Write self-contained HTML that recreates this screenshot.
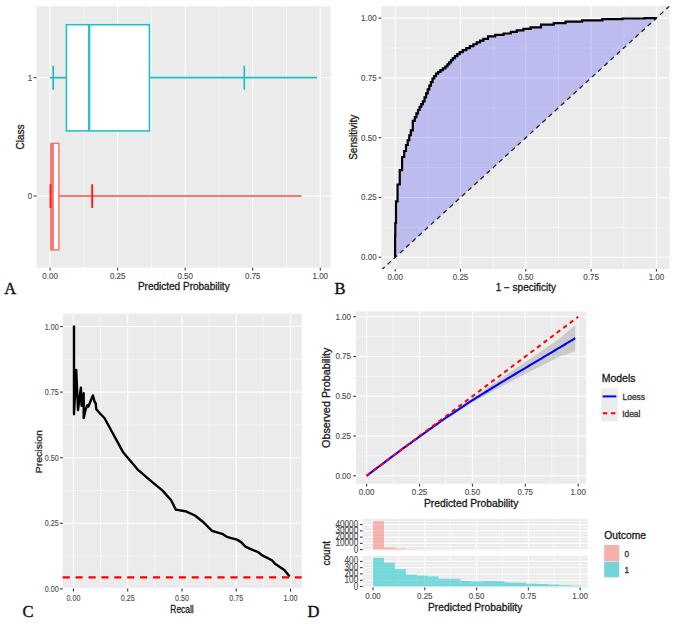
<!DOCTYPE html><html><head><meta charset="utf-8"><style>html,body{margin:0;padding:0;background:#fff;width:676px;height:624px;overflow:hidden}svg{display:block}text{font-family:"Liberation Sans",sans-serif}</style></head><body>
<svg width="676" height="624" viewBox="0 0 676 624">
<rect x="36.5" y="6.3" width="294.2" height="261.4" fill="#EBEBEB" />
<line x1="83.88" y1="6.3" x2="83.88" y2="267.7" stroke="#FFFFFF" stroke-width="0.53" />
<line x1="151.43" y1="6.3" x2="151.43" y2="267.7" stroke="#FFFFFF" stroke-width="0.53" />
<line x1="218.97" y1="6.3" x2="218.97" y2="267.7" stroke="#FFFFFF" stroke-width="0.53" />
<line x1="286.52" y1="6.3" x2="286.52" y2="267.7" stroke="#FFFFFF" stroke-width="0.53" />
<line x1="50.1" y1="6.3" x2="50.1" y2="267.7" stroke="#FFFFFF" stroke-width="1.07" />
<line x1="117.65" y1="6.3" x2="117.65" y2="267.7" stroke="#FFFFFF" stroke-width="1.07" />
<line x1="185.2" y1="6.3" x2="185.2" y2="267.7" stroke="#FFFFFF" stroke-width="1.07" />
<line x1="252.75" y1="6.3" x2="252.75" y2="267.7" stroke="#FFFFFF" stroke-width="1.07" />
<line x1="320.3" y1="6.3" x2="320.3" y2="267.7" stroke="#FFFFFF" stroke-width="1.07" />
<line x1="36.5" y1="77.7" x2="330.7" y2="77.7" stroke="#FFFFFF" stroke-width="1.07" />
<line x1="36.5" y1="196" x2="330.7" y2="196" stroke="#FFFFFF" stroke-width="1.07" />
<line x1="50.1" y1="77.7" x2="66.4" y2="77.7" stroke="#1CBFC6" stroke-width="1.8" />
<line x1="149.4" y1="77.7" x2="317" y2="77.7" stroke="#1CBFC6" stroke-width="1.8" />
<rect x="66.4" y="24.7" width="83" height="106.2" fill="#FFFFFF" stroke="#1CBFC6" stroke-width="1.5"/>
<line x1="89.2" y1="24.7" x2="89.2" y2="130.9" stroke="#1CBFC6" stroke-width="2.2" />
<line x1="53.2" y1="65.7" x2="53.2" y2="89.7" stroke="#1CBFC6" stroke-width="1.7" />
<line x1="244.3" y1="65.7" x2="244.3" y2="89.7" stroke="#1CBFC6" stroke-width="1.7" />
<line x1="59" y1="196" x2="301.4" y2="196" stroke="#F8766D" stroke-width="1.8" />
<rect x="50.95" y="143.4" width="7.95" height="106.5" fill="#FFFFFF" stroke="#F8766D" stroke-width="1.5"/>
<line x1="52.05" y1="143.4" x2="52.05" y2="249.9" stroke="#F8766D" stroke-width="3.7" />
<line x1="50.5" y1="184.3" x2="50.5" y2="207.9" stroke="#FF1A1A" stroke-width="1.9" />
<line x1="92.2" y1="184.3" x2="92.2" y2="207.9" stroke="#FF1A1A" stroke-width="1.9" />
<line x1="33.8" y1="77.7" x2="36.5" y2="77.7" stroke="#333333" stroke-width="1.07" />
<text x="0" y="0" font-size="8" fill="#4D4D4D" stroke="#4D4D4D" stroke-width="0.12" text-anchor="end" transform="translate(32.3 80.6) scale(1 1.1)">1</text>
<line x1="33.8" y1="196" x2="36.5" y2="196" stroke="#333333" stroke-width="1.07" />
<text x="0" y="0" font-size="8" fill="#4D4D4D" stroke="#4D4D4D" stroke-width="0.12" text-anchor="end" transform="translate(32.3 198.9) scale(1 1.1)">0</text>
<line x1="50.1" y1="267.7" x2="50.1" y2="270.4" stroke="#333333" stroke-width="1.07" />
<text x="0" y="0" font-size="8" fill="#4D4D4D" stroke="#4D4D4D" stroke-width="0.12" text-anchor="middle" transform="translate(50.1 278.6) scale(1 1.1)">0.00</text>
<line x1="117.65" y1="267.7" x2="117.65" y2="270.4" stroke="#333333" stroke-width="1.07" />
<text x="0" y="0" font-size="8" fill="#4D4D4D" stroke="#4D4D4D" stroke-width="0.12" text-anchor="middle" transform="translate(117.65 278.6) scale(1 1.1)">0.25</text>
<line x1="185.2" y1="267.7" x2="185.2" y2="270.4" stroke="#333333" stroke-width="1.07" />
<text x="0" y="0" font-size="8" fill="#4D4D4D" stroke="#4D4D4D" stroke-width="0.12" text-anchor="middle" transform="translate(185.2 278.6) scale(1 1.1)">0.50</text>
<line x1="252.75" y1="267.7" x2="252.75" y2="270.4" stroke="#333333" stroke-width="1.07" />
<text x="0" y="0" font-size="8" fill="#4D4D4D" stroke="#4D4D4D" stroke-width="0.12" text-anchor="middle" transform="translate(252.75 278.6) scale(1 1.1)">0.75</text>
<line x1="320.3" y1="267.7" x2="320.3" y2="270.4" stroke="#333333" stroke-width="1.07" />
<text x="0" y="0" font-size="8" fill="#4D4D4D" stroke="#4D4D4D" stroke-width="0.12" text-anchor="middle" transform="translate(320.3 278.6) scale(1 1.1)">1.00</text>
<text x="183.8" y="289.8" font-size="10" fill="#1A1A1A" stroke="#1A1A1A" stroke-width="0.3" text-anchor="middle" >Predicted Probability</text>
<text x="23.8" y="137" font-size="10" fill="#1A1A1A" stroke="#1A1A1A" stroke-width="0.3" text-anchor="middle" transform="rotate(-90 23.8 137)">Class</text>
<text x="4.3" y="293.8" font-size="16.5" fill="#111" stroke="#111" stroke-width="0.4" style="font-family:'Liberation Serif',serif">A</text>
<rect x="381.3" y="6.1" width="288.2" height="262.8" fill="#EBEBEB" />
<line x1="427.85" y1="6.1" x2="427.85" y2="268.9" stroke="#FFFFFF" stroke-width="0.53" />
<line x1="493.15" y1="6.1" x2="493.15" y2="268.9" stroke="#FFFFFF" stroke-width="0.53" />
<line x1="558.45" y1="6.1" x2="558.45" y2="268.9" stroke="#FFFFFF" stroke-width="0.53" />
<line x1="623.75" y1="6.1" x2="623.75" y2="268.9" stroke="#FFFFFF" stroke-width="0.53" />
<line x1="381.3" y1="227.4" x2="669.5" y2="227.4" stroke="#FFFFFF" stroke-width="0.53" />
<line x1="381.3" y1="167.6" x2="669.5" y2="167.6" stroke="#FFFFFF" stroke-width="0.53" />
<line x1="381.3" y1="107.8" x2="669.5" y2="107.8" stroke="#FFFFFF" stroke-width="0.53" />
<line x1="381.3" y1="48" x2="669.5" y2="48" stroke="#FFFFFF" stroke-width="0.53" />
<line x1="395.2" y1="6.1" x2="395.2" y2="268.9" stroke="#FFFFFF" stroke-width="1.07" />
<line x1="460.5" y1="6.1" x2="460.5" y2="268.9" stroke="#FFFFFF" stroke-width="1.07" />
<line x1="525.8" y1="6.1" x2="525.8" y2="268.9" stroke="#FFFFFF" stroke-width="1.07" />
<line x1="591.1" y1="6.1" x2="591.1" y2="268.9" stroke="#FFFFFF" stroke-width="1.07" />
<line x1="656.4" y1="6.1" x2="656.4" y2="268.9" stroke="#FFFFFF" stroke-width="1.07" />
<line x1="381.3" y1="257.3" x2="669.5" y2="257.3" stroke="#FFFFFF" stroke-width="1.07" />
<line x1="381.3" y1="197.5" x2="669.5" y2="197.5" stroke="#FFFFFF" stroke-width="1.07" />
<line x1="381.3" y1="137.7" x2="669.5" y2="137.7" stroke="#FFFFFF" stroke-width="1.07" />
<line x1="381.3" y1="77.9" x2="669.5" y2="77.9" stroke="#FFFFFF" stroke-width="1.07" />
<line x1="381.3" y1="18.1" x2="669.5" y2="18.1" stroke="#FFFFFF" stroke-width="1.07" />
<path d="M395.1,257.3 L395.1,257.3 L395.1,236 L395.1,236 L395.3,236 L395.3,223 L395.5,223 L396,223 L396,201.3 L396.5,201.3 L397.55,201.3 L397.55,184.5 L398.6,184.5 L399.75,184.5 L399.75,170.1 L400.9,170.1 L402.1,170.1 L402.1,157 L403.3,157 L404.2,157 L404.2,151 L405.1,151 L406,151 L406,145 L406.9,145 L407.68,145 L407.68,140.13 L408.47,140.13 L409.25,140.13 L409.25,135.27 L410.03,135.27 L410.82,135.27 L410.82,130.4 L411.6,130.4 L412.8,130.4 L412.8,120.8 L414,120.8 L414.8,120.8 L414.8,117.13 L415.6,117.13 L416.4,117.13 L416.4,113.47 L417.2,113.47 L418,113.47 L418,109.8 L418.8,109.8 L419.62,109.8 L419.62,106.97 L420.43,106.97 L421.25,106.97 L421.25,104.13 L422.07,104.13 L422.88,104.13 L422.88,101.3 L423.7,101.3 L424.5,101.3 L424.5,97.3 L425.3,97.3 L426.1,97.3 L426.1,93.3 L426.9,93.3 L427.7,93.3 L427.7,89.3 L428.5,89.3 L429.3,89.3 L429.3,85.7 L430.1,85.7 L430.9,85.7 L430.9,82.1 L431.7,82.1 L432.5,82.1 L432.5,78.5 L433.3,78.5 L434.2,78.5 L434.2,76.1 L435.1,76.1 L436,76.1 L436,73.7 L436.9,73.7 L438.1,73.7 L438.1,71.9 L439.3,71.9 L440.5,71.9 L440.5,70.1 L441.7,70.1 L442.9,70.1 L442.9,68.3 L444.1,68.3 L445.3,68.3 L445.3,66.5 L446.5,66.5 L447.4,66.5 L447.4,64.4 L448.3,64.4 L449.2,64.4 L449.2,62.3 L450.1,62.3 L451,62.3 L451,60.2 L451.9,60.2 L452.8,60.2 L452.8,58.1 L453.7,58.1 L454.9,58.1 L454.9,56.1 L456.1,56.1 L457.3,56.1 L457.3,54.1 L458.5,54.1 L459.7,54.1 L459.7,52.1 L460.9,52.1 L462.7,52.1 L462.7,50.1 L464.5,50.1 L466.3,50.1 L466.3,48.1 L468.1,48.1 L469.9,48.1 L469.9,46.1 L471.7,46.1 L473.36,46.1 L473.36,44.27 L475.02,44.27 L476.69,44.27 L476.69,42.45 L478.35,42.45 L480.01,42.45 L480.01,40.62 L481.68,40.62 L483.34,40.62 L483.34,38.8 L485,38.8 L488,38.8 L488,36.4 L491,36.4 L495.2,36.4 L495.2,34.95 L499.4,34.95 L503.6,34.95 L503.6,33.5 L507.8,33.5 L510.8,33.5 L510.8,31.9 L513.8,31.9 L516.8,31.9 L516.8,30.3 L519.8,30.3 L523.4,30.3 L523.4,28.8 L527,28.8 L530.6,28.8 L530.6,27.3 L534.2,27.3 L541.05,27.3 L541.05,24.6 L547.9,24.6 L553.8,24.6 L553.8,23.1 L559.7,23.1 L565.6,23.1 L565.6,21.6 L571.5,21.6 L582.15,21.6 L582.15,20.4 L592.8,20.4 L602.3,20.4 L602.3,19.2 L611.8,19.2 L622.45,19.2 L622.45,18.5 L633.1,18.5 L644.75,18.5 L644.75,18.1 L656.4,18.1 L395.1,257.3 Z" fill="#0000FF" fill-opacity="0.2" stroke="none"/>
<defs><clipPath id="cb"><rect x="381.3" y="6.1" width="288.2" height="262.8"/></clipPath></defs>
<line x1="381.3" y1="270.03" x2="669.5" y2="6.1" stroke="#222" stroke-width="1.3" stroke-dasharray="4.6 3.8" clip-path="url(#cb)"/>
<path d="M395.1,257.3 L395.1,257.3 L395.1,236 L395.1,236 L395.3,236 L395.3,223 L395.5,223 L396,223 L396,201.3 L396.5,201.3 L397.55,201.3 L397.55,184.5 L398.6,184.5 L399.75,184.5 L399.75,170.1 L400.9,170.1 L402.1,170.1 L402.1,157 L403.3,157 L404.2,157 L404.2,151 L405.1,151 L406,151 L406,145 L406.9,145 L407.68,145 L407.68,140.13 L408.47,140.13 L409.25,140.13 L409.25,135.27 L410.03,135.27 L410.82,135.27 L410.82,130.4 L411.6,130.4 L412.8,130.4 L412.8,120.8 L414,120.8 L414.8,120.8 L414.8,117.13 L415.6,117.13 L416.4,117.13 L416.4,113.47 L417.2,113.47 L418,113.47 L418,109.8 L418.8,109.8 L419.62,109.8 L419.62,106.97 L420.43,106.97 L421.25,106.97 L421.25,104.13 L422.07,104.13 L422.88,104.13 L422.88,101.3 L423.7,101.3 L424.5,101.3 L424.5,97.3 L425.3,97.3 L426.1,97.3 L426.1,93.3 L426.9,93.3 L427.7,93.3 L427.7,89.3 L428.5,89.3 L429.3,89.3 L429.3,85.7 L430.1,85.7 L430.9,85.7 L430.9,82.1 L431.7,82.1 L432.5,82.1 L432.5,78.5 L433.3,78.5 L434.2,78.5 L434.2,76.1 L435.1,76.1 L436,76.1 L436,73.7 L436.9,73.7 L438.1,73.7 L438.1,71.9 L439.3,71.9 L440.5,71.9 L440.5,70.1 L441.7,70.1 L442.9,70.1 L442.9,68.3 L444.1,68.3 L445.3,68.3 L445.3,66.5 L446.5,66.5 L447.4,66.5 L447.4,64.4 L448.3,64.4 L449.2,64.4 L449.2,62.3 L450.1,62.3 L451,62.3 L451,60.2 L451.9,60.2 L452.8,60.2 L452.8,58.1 L453.7,58.1 L454.9,58.1 L454.9,56.1 L456.1,56.1 L457.3,56.1 L457.3,54.1 L458.5,54.1 L459.7,54.1 L459.7,52.1 L460.9,52.1 L462.7,52.1 L462.7,50.1 L464.5,50.1 L466.3,50.1 L466.3,48.1 L468.1,48.1 L469.9,48.1 L469.9,46.1 L471.7,46.1 L473.36,46.1 L473.36,44.27 L475.02,44.27 L476.69,44.27 L476.69,42.45 L478.35,42.45 L480.01,42.45 L480.01,40.62 L481.68,40.62 L483.34,40.62 L483.34,38.8 L485,38.8 L488,38.8 L488,36.4 L491,36.4 L495.2,36.4 L495.2,34.95 L499.4,34.95 L503.6,34.95 L503.6,33.5 L507.8,33.5 L510.8,33.5 L510.8,31.9 L513.8,31.9 L516.8,31.9 L516.8,30.3 L519.8,30.3 L523.4,30.3 L523.4,28.8 L527,28.8 L530.6,28.8 L530.6,27.3 L534.2,27.3 L541.05,27.3 L541.05,24.6 L547.9,24.6 L553.8,24.6 L553.8,23.1 L559.7,23.1 L565.6,23.1 L565.6,21.6 L571.5,21.6 L582.15,21.6 L582.15,20.4 L592.8,20.4 L602.3,20.4 L602.3,19.2 L611.8,19.2 L622.45,19.2 L622.45,18.5 L633.1,18.5 L644.75,18.5 L644.75,18.1 L656.4,18.1" fill="none" stroke="#000" stroke-width="2.2" stroke-linejoin="miter"/>
<line x1="378.6" y1="257.3" x2="381.3" y2="257.3" stroke="#333333" stroke-width="1.07" />
<text x="0" y="0" font-size="8" fill="#4D4D4D" stroke="#4D4D4D" stroke-width="0.12" text-anchor="end" transform="translate(376.6 260.2) scale(1 1.1)">0.00</text>
<line x1="378.6" y1="197.5" x2="381.3" y2="197.5" stroke="#333333" stroke-width="1.07" />
<text x="0" y="0" font-size="8" fill="#4D4D4D" stroke="#4D4D4D" stroke-width="0.12" text-anchor="end" transform="translate(376.6 200.4) scale(1 1.1)">0.25</text>
<line x1="378.6" y1="137.7" x2="381.3" y2="137.7" stroke="#333333" stroke-width="1.07" />
<text x="0" y="0" font-size="8" fill="#4D4D4D" stroke="#4D4D4D" stroke-width="0.12" text-anchor="end" transform="translate(376.6 140.6) scale(1 1.1)">0.50</text>
<line x1="378.6" y1="77.9" x2="381.3" y2="77.9" stroke="#333333" stroke-width="1.07" />
<text x="0" y="0" font-size="8" fill="#4D4D4D" stroke="#4D4D4D" stroke-width="0.12" text-anchor="end" transform="translate(376.6 80.8) scale(1 1.1)">0.75</text>
<line x1="378.6" y1="18.1" x2="381.3" y2="18.1" stroke="#333333" stroke-width="1.07" />
<text x="0" y="0" font-size="8" fill="#4D4D4D" stroke="#4D4D4D" stroke-width="0.12" text-anchor="end" transform="translate(376.6 21) scale(1 1.1)">1.00</text>
<line x1="395.2" y1="268.9" x2="395.2" y2="271.6" stroke="#333333" stroke-width="1.07" />
<text x="0" y="0" font-size="8" fill="#4D4D4D" stroke="#4D4D4D" stroke-width="0.12" text-anchor="middle" transform="translate(395.2 279.8) scale(1 1.1)">0.00</text>
<line x1="460.5" y1="268.9" x2="460.5" y2="271.6" stroke="#333333" stroke-width="1.07" />
<text x="0" y="0" font-size="8" fill="#4D4D4D" stroke="#4D4D4D" stroke-width="0.12" text-anchor="middle" transform="translate(460.5 279.8) scale(1 1.1)">0.25</text>
<line x1="525.8" y1="268.9" x2="525.8" y2="271.6" stroke="#333333" stroke-width="1.07" />
<text x="0" y="0" font-size="8" fill="#4D4D4D" stroke="#4D4D4D" stroke-width="0.12" text-anchor="middle" transform="translate(525.8 279.8) scale(1 1.1)">0.50</text>
<line x1="591.1" y1="268.9" x2="591.1" y2="271.6" stroke="#333333" stroke-width="1.07" />
<text x="0" y="0" font-size="8" fill="#4D4D4D" stroke="#4D4D4D" stroke-width="0.12" text-anchor="middle" transform="translate(591.1 279.8) scale(1 1.1)">0.75</text>
<line x1="656.4" y1="268.9" x2="656.4" y2="271.6" stroke="#333333" stroke-width="1.07" />
<text x="0" y="0" font-size="8" fill="#4D4D4D" stroke="#4D4D4D" stroke-width="0.12" text-anchor="middle" transform="translate(656.4 279.8) scale(1 1.1)">1.00</text>
<text x="525.8" y="291.1" font-size="10" fill="#1A1A1A" stroke="#1A1A1A" stroke-width="0.3" text-anchor="middle" >1 − specificity</text>
<text x="356.6" y="137.3" font-size="10" fill="#1A1A1A" stroke="#1A1A1A" stroke-width="0.3" text-anchor="middle" transform="rotate(-90 356.6 137.3)">Sensitivity</text>
<text x="334.6" y="293.8" font-size="16.5" fill="#111" stroke="#111" stroke-width="0.4" style="font-family:'Liberation Serif',serif">B</text>
<rect x="62.7" y="313.6" width="239" height="274.2" fill="#EBEBEB" />
<line x1="100.54" y1="313.6" x2="100.54" y2="587.8" stroke="#FFFFFF" stroke-width="0.53" />
<line x1="154.82" y1="313.6" x2="154.82" y2="587.8" stroke="#FFFFFF" stroke-width="0.53" />
<line x1="209.1" y1="313.6" x2="209.1" y2="587.8" stroke="#FFFFFF" stroke-width="0.53" />
<line x1="263.38" y1="313.6" x2="263.38" y2="587.8" stroke="#FFFFFF" stroke-width="0.53" />
<line x1="62.7" y1="556.1" x2="301.7" y2="556.1" stroke="#FFFFFF" stroke-width="0.53" />
<line x1="62.7" y1="490.5" x2="301.7" y2="490.5" stroke="#FFFFFF" stroke-width="0.53" />
<line x1="62.7" y1="424.9" x2="301.7" y2="424.9" stroke="#FFFFFF" stroke-width="0.53" />
<line x1="62.7" y1="359.3" x2="301.7" y2="359.3" stroke="#FFFFFF" stroke-width="0.53" />
<line x1="73.4" y1="313.6" x2="73.4" y2="587.8" stroke="#FFFFFF" stroke-width="1.07" />
<line x1="127.68" y1="313.6" x2="127.68" y2="587.8" stroke="#FFFFFF" stroke-width="1.07" />
<line x1="181.96" y1="313.6" x2="181.96" y2="587.8" stroke="#FFFFFF" stroke-width="1.07" />
<line x1="236.24" y1="313.6" x2="236.24" y2="587.8" stroke="#FFFFFF" stroke-width="1.07" />
<line x1="290.52" y1="313.6" x2="290.52" y2="587.8" stroke="#FFFFFF" stroke-width="1.07" />
<line x1="62.7" y1="588.9" x2="301.7" y2="588.9" stroke="#FFFFFF" stroke-width="1.07" />
<line x1="62.7" y1="523.3" x2="301.7" y2="523.3" stroke="#FFFFFF" stroke-width="1.07" />
<line x1="62.7" y1="457.7" x2="301.7" y2="457.7" stroke="#FFFFFF" stroke-width="1.07" />
<line x1="62.7" y1="392.1" x2="301.7" y2="392.1" stroke="#FFFFFF" stroke-width="1.07" />
<line x1="62.7" y1="326.5" x2="301.7" y2="326.5" stroke="#FFFFFF" stroke-width="1.07" />
<path d="M74,325.4 L74,414.2 L76.2,369.9 L78,410 L80.9,387.6 L81.6,405.8 L83.7,393.3 L83.7,418 L85.6,409.6 L87.3,405.3 L88.4,406.5 L92.9,395.4 L94.6,401.8 L95.7,403.3 L96.3,409.3 L99.6,413 L104.6,418.3 L122.9,451.9 L138.3,470.2 L150.8,480.8 L162.3,490.4 L171,500 L175.8,509.6 L185.4,511.2 L195,515.5 L202.8,521.7 L212.1,530.8 L223,534.2 L226.8,536.8 L236.9,539.6 L240.8,541.9 L245.5,546.6 L250.1,548.9 L257.9,552 L261.8,555.1 L271.9,560.3 L275,563.7 L284.3,569.9 L289.7,576.4" fill="none" stroke="#000" stroke-width="2.4" stroke-linejoin="round"/>
<line x1="62.7" y1="577.4" x2="301.7" y2="577.4" stroke="#FF0000" stroke-width="2.3" stroke-dasharray="7.1 5.8"/>
<line x1="60.1" y1="588.9" x2="62.7" y2="588.9" stroke="#333333" stroke-width="1.1" />
<text x="0" y="0" font-size="8.6" fill="#4D4D4D" stroke="#4D4D4D" stroke-width="0.12" text-anchor="end" transform="translate(58.6 591.9) scale(0.83 1)">0.00</text>
<line x1="60.1" y1="523.3" x2="62.7" y2="523.3" stroke="#333333" stroke-width="1.1" />
<text x="0" y="0" font-size="8.6" fill="#4D4D4D" stroke="#4D4D4D" stroke-width="0.12" text-anchor="end" transform="translate(58.6 526.3) scale(0.83 1)">0.25</text>
<line x1="60.1" y1="457.7" x2="62.7" y2="457.7" stroke="#333333" stroke-width="1.1" />
<text x="0" y="0" font-size="8.6" fill="#4D4D4D" stroke="#4D4D4D" stroke-width="0.12" text-anchor="end" transform="translate(58.6 460.7) scale(0.83 1)">0.50</text>
<line x1="60.1" y1="392.1" x2="62.7" y2="392.1" stroke="#333333" stroke-width="1.1" />
<text x="0" y="0" font-size="8.6" fill="#4D4D4D" stroke="#4D4D4D" stroke-width="0.12" text-anchor="end" transform="translate(58.6 395.1) scale(0.83 1)">0.75</text>
<line x1="60.1" y1="326.5" x2="62.7" y2="326.5" stroke="#333333" stroke-width="1.1" />
<text x="0" y="0" font-size="8.6" fill="#4D4D4D" stroke="#4D4D4D" stroke-width="0.12" text-anchor="end" transform="translate(58.6 329.5) scale(0.83 1)">1.00</text>
<line x1="73.4" y1="588.6" x2="73.4" y2="591.6" stroke="#333333" stroke-width="1.1" />
<text x="0" y="0" font-size="8.6" fill="#4D4D4D" stroke="#4D4D4D" stroke-width="0.12" text-anchor="middle" transform="translate(73.4 600.9) scale(0.83 1)">0.00</text>
<line x1="127.68" y1="588.6" x2="127.68" y2="591.6" stroke="#333333" stroke-width="1.1" />
<text x="0" y="0" font-size="8.6" fill="#4D4D4D" stroke="#4D4D4D" stroke-width="0.12" text-anchor="middle" transform="translate(127.68 600.9) scale(0.83 1)">0.25</text>
<line x1="181.96" y1="588.6" x2="181.96" y2="591.6" stroke="#333333" stroke-width="1.1" />
<text x="0" y="0" font-size="8.6" fill="#4D4D4D" stroke="#4D4D4D" stroke-width="0.12" text-anchor="middle" transform="translate(181.96 600.9) scale(0.83 1)">0.50</text>
<line x1="236.24" y1="588.6" x2="236.24" y2="591.6" stroke="#333333" stroke-width="1.1" />
<text x="0" y="0" font-size="8.6" fill="#4D4D4D" stroke="#4D4D4D" stroke-width="0.12" text-anchor="middle" transform="translate(236.24 600.9) scale(0.83 1)">0.75</text>
<line x1="290.52" y1="588.6" x2="290.52" y2="591.6" stroke="#333333" stroke-width="1.1" />
<text x="0" y="0" font-size="8.6" fill="#4D4D4D" stroke="#4D4D4D" stroke-width="0.12" text-anchor="middle" transform="translate(290.52 600.9) scale(0.83 1)">1.00</text>
<text x="0" y="0" font-size="10.5" fill="#1A1A1A" stroke="#1A1A1A" stroke-width="0.3" text-anchor="middle" transform="translate(182 612.6) scale(0.8 1)">Recall</text>
<text x="0" y="0" font-size="10.5" fill="#1A1A1A" stroke="#1A1A1A" stroke-width="0.3" text-anchor="middle" transform="translate(42.4 451.7) rotate(-90) scale(1 0.8)">Precision</text>
<text x="22.6" y="617" font-size="16.5" fill="#111" stroke="#111" stroke-width="0.4" style="font-family:'Liberation Serif',serif">C</text>
<rect x="356" y="311.4" width="230.2" height="172.4" fill="#EBEBEB" />
<line x1="393.05" y1="311.4" x2="393.05" y2="483.8" stroke="#FFFFFF" stroke-width="0.53" />
<line x1="445.95" y1="311.4" x2="445.95" y2="483.8" stroke="#FFFFFF" stroke-width="0.53" />
<line x1="498.85" y1="311.4" x2="498.85" y2="483.8" stroke="#FFFFFF" stroke-width="0.53" />
<line x1="551.75" y1="311.4" x2="551.75" y2="483.8" stroke="#FFFFFF" stroke-width="0.53" />
<line x1="356" y1="455.93" x2="586.2" y2="455.93" stroke="#FFFFFF" stroke-width="0.53" />
<line x1="356" y1="416.18" x2="586.2" y2="416.18" stroke="#FFFFFF" stroke-width="0.53" />
<line x1="356" y1="376.43" x2="586.2" y2="376.43" stroke="#FFFFFF" stroke-width="0.53" />
<line x1="356" y1="336.68" x2="586.2" y2="336.68" stroke="#FFFFFF" stroke-width="0.53" />
<line x1="366.6" y1="311.4" x2="366.6" y2="483.8" stroke="#FFFFFF" stroke-width="1.07" />
<line x1="419.5" y1="311.4" x2="419.5" y2="483.8" stroke="#FFFFFF" stroke-width="1.07" />
<line x1="472.4" y1="311.4" x2="472.4" y2="483.8" stroke="#FFFFFF" stroke-width="1.07" />
<line x1="525.3" y1="311.4" x2="525.3" y2="483.8" stroke="#FFFFFF" stroke-width="1.07" />
<line x1="578.2" y1="311.4" x2="578.2" y2="483.8" stroke="#FFFFFF" stroke-width="1.07" />
<line x1="356" y1="475.8" x2="586.2" y2="475.8" stroke="#FFFFFF" stroke-width="1.07" />
<line x1="356" y1="436.05" x2="586.2" y2="436.05" stroke="#FFFFFF" stroke-width="1.07" />
<line x1="356" y1="396.3" x2="586.2" y2="396.3" stroke="#FFFFFF" stroke-width="1.07" />
<line x1="356" y1="356.55" x2="586.2" y2="356.55" stroke="#FFFFFF" stroke-width="1.07" />
<line x1="356" y1="316.8" x2="586.2" y2="316.8" stroke="#FFFFFF" stroke-width="1.07" />
<path d="M431.79,427.12 L434.4,425.21 L437,423.31 L439.61,421.4 L442.22,419.42 L444.83,417.48 L447.43,415.63 L450.04,413.79 L452.65,411.95 L455.25,410.1 L457.86,408.26 L460.47,406.41 L463.08,404.57 L465.69,402.73 L468.29,400.88 L470.9,399.04 L473.51,397.26 L476.12,395.53 L478.72,393.79 L481.33,392.02 L483.94,390.22 L486.55,388.41 L489.15,386.6 L491.76,384.79 L494.37,382.99 L496.98,381.18 L499.58,379.37 L502.19,377.6 L504.8,375.84 L507.41,374.08 L510.01,372.32 L512.62,370.56 L515.23,368.8 L517.84,367.03 L520.44,365.28 L523.05,363.54 L525.66,361.81 L528.27,360.07 L530.87,358.32 L533.48,356.54 L536.09,354.75 L538.7,352.97 L541.3,351.17 L543.91,349.37 L546.52,347.57 L549.12,345.77 L551.73,343.96 L554.34,342.16 L556.95,340.36 L559.56,338.48 L562.16,336.29 L564.77,334.1 L567.38,331.92 L569.99,329.73 L572.59,327.54 L575.2,325.35 L575.2,351.15 L572.59,352.09 L569.99,353.02 L567.38,353.95 L564.77,354.88 L562.16,355.81 L559.56,356.74 L556.95,357.98 L554.34,359.29 L551.73,360.61 L549.12,361.93 L546.52,363.24 L543.91,364.56 L541.3,365.88 L538.7,367.19 L536.09,368.48 L533.48,369.78 L530.87,371.08 L528.27,372.42 L525.66,373.77 L523.05,375.11 L520.44,376.46 L517.84,377.83 L515.23,379.21 L512.62,380.58 L510.01,381.96 L507.41,383.34 L504.8,384.71 L502.19,386.09 L499.58,387.47 L496.98,388.89 L494.37,390.31 L491.76,391.73 L489.15,393.16 L486.55,394.58 L483.94,396 L481.33,397.42 L478.72,398.88 L476.12,400.38 L473.51,401.87 L470.9,403.42 L468.29,405.03 L465.69,406.64 L463.08,408.25 L460.47,409.86 L457.86,411.47 L455.25,413.07 L452.65,414.68 L450.04,416.29 L447.43,417.9 L444.83,419.51 L442.22,421.22 L439.61,423 L437,424.84 L434.4,426.69 L431.79,428.54 Z" fill="#999999" fill-opacity="0.4"/>
<path d="M366.6,475.8 L369.21,473.84 L371.81,471.88 L374.42,469.92 L377.03,467.96 L379.64,466 L382.25,464.04 L384.85,462.08 L387.46,460.13 L390.07,458.17 L392.68,456.21 L395.28,454.25 L397.89,452.29 L400.5,450.34 L403.11,448.47 L405.71,446.59 L408.32,444.72 L410.93,442.84 L413.54,440.96 L416.14,439.09 L418.75,437.21 L421.36,435.33 L423.97,433.46 L426.57,431.58 L429.18,429.7 L431.79,427.83 L434.4,425.95 L437,424.08 L439.61,422.2 L442.22,420.32 L444.83,418.49 L447.43,416.77 L450.04,415.04 L452.65,413.31 L455.25,411.59 L457.86,409.86 L460.47,408.13 L463.08,406.41 L465.69,404.68 L468.29,402.96 L470.9,401.23 L473.51,399.57 L476.12,397.95 L478.72,396.34 L481.33,394.72 L483.94,393.11 L486.55,391.49 L489.15,389.88 L491.76,388.26 L494.37,386.65 L496.98,385.03 L499.58,383.42 L502.19,381.84 L504.8,380.28 L507.41,378.71 L510.01,377.14 L512.62,375.57 L515.23,374 L517.84,372.43 L520.44,370.87 L523.05,369.33 L525.66,367.79 L528.27,366.24 L530.87,364.7 L533.48,363.16 L536.09,361.62 L538.7,360.08 L541.3,358.53 L543.91,356.97 L546.52,355.41 L549.12,353.85 L551.73,352.29 L554.34,350.73 L556.95,349.17 L559.56,347.61 L562.16,346.05 L564.77,344.49 L567.38,342.93 L569.99,341.37 L572.59,339.81 L575.2,338.25" fill="none" stroke="#0000FF" stroke-width="2.1" stroke-linejoin="round"/>
<line x1="366.6" y1="475.8" x2="578.2" y2="316.8" stroke="#FF0000" stroke-width="2.0" stroke-dasharray="4.4 3.8"/>
<line x1="353.3" y1="475.8" x2="356" y2="475.8" stroke="#333333" stroke-width="1.07" />
<text x="0" y="0" font-size="8" fill="#4D4D4D" stroke="#4D4D4D" stroke-width="0.12" text-anchor="end" transform="translate(351 478.7) scale(1 1.1)">0.00</text>
<line x1="353.3" y1="436.05" x2="356" y2="436.05" stroke="#333333" stroke-width="1.07" />
<text x="0" y="0" font-size="8" fill="#4D4D4D" stroke="#4D4D4D" stroke-width="0.12" text-anchor="end" transform="translate(351 438.95) scale(1 1.1)">0.25</text>
<line x1="353.3" y1="396.3" x2="356" y2="396.3" stroke="#333333" stroke-width="1.07" />
<text x="0" y="0" font-size="8" fill="#4D4D4D" stroke="#4D4D4D" stroke-width="0.12" text-anchor="end" transform="translate(351 399.2) scale(1 1.1)">0.50</text>
<line x1="353.3" y1="356.55" x2="356" y2="356.55" stroke="#333333" stroke-width="1.07" />
<text x="0" y="0" font-size="8" fill="#4D4D4D" stroke="#4D4D4D" stroke-width="0.12" text-anchor="end" transform="translate(351 359.45) scale(1 1.1)">0.75</text>
<line x1="353.3" y1="316.8" x2="356" y2="316.8" stroke="#333333" stroke-width="1.07" />
<text x="0" y="0" font-size="8" fill="#4D4D4D" stroke="#4D4D4D" stroke-width="0.12" text-anchor="end" transform="translate(351 319.7) scale(1 1.1)">1.00</text>
<line x1="366.6" y1="483.8" x2="366.6" y2="486.5" stroke="#333333" stroke-width="1.07" />
<text x="0" y="0" font-size="8" fill="#4D4D4D" stroke="#4D4D4D" stroke-width="0.12" text-anchor="middle" transform="translate(366.6 495.3) scale(1 1.1)">0.00</text>
<line x1="419.5" y1="483.8" x2="419.5" y2="486.5" stroke="#333333" stroke-width="1.07" />
<text x="0" y="0" font-size="8" fill="#4D4D4D" stroke="#4D4D4D" stroke-width="0.12" text-anchor="middle" transform="translate(419.5 495.3) scale(1 1.1)">0.25</text>
<line x1="472.4" y1="483.8" x2="472.4" y2="486.5" stroke="#333333" stroke-width="1.07" />
<text x="0" y="0" font-size="8" fill="#4D4D4D" stroke="#4D4D4D" stroke-width="0.12" text-anchor="middle" transform="translate(472.4 495.3) scale(1 1.1)">0.50</text>
<line x1="525.3" y1="483.8" x2="525.3" y2="486.5" stroke="#333333" stroke-width="1.07" />
<text x="0" y="0" font-size="8" fill="#4D4D4D" stroke="#4D4D4D" stroke-width="0.12" text-anchor="middle" transform="translate(525.3 495.3) scale(1 1.1)">0.75</text>
<line x1="578.2" y1="483.8" x2="578.2" y2="486.5" stroke="#333333" stroke-width="1.07" />
<text x="0" y="0" font-size="8" fill="#4D4D4D" stroke="#4D4D4D" stroke-width="0.12" text-anchor="middle" transform="translate(578.2 495.3) scale(1 1.1)">1.00</text>
<text x="471.1" y="506.6" font-size="10.3" fill="#1A1A1A" stroke="#1A1A1A" stroke-width="0.3" text-anchor="middle" >Predicted Probability</text>
<text x="330.3" y="397.8" font-size="10.8" fill="#1A1A1A" stroke="#1A1A1A" stroke-width="0.3" text-anchor="middle" transform="rotate(-90 330.3 397.8)">Observed Probability</text>
<text x="601.7" y="382" font-size="10.5" fill="#1A1A1A" stroke="#1A1A1A" stroke-width="0.3" text-anchor="start" >Models</text>
<rect x="601.2" y="388.3" width="16.6" height="33.1" fill="#EBEBEB" />
<line x1="602.6" y1="396.4" x2="616.4" y2="396.4" stroke="#0000FF" stroke-width="2" />
<line x1="602.8" y1="413.2" x2="616.4" y2="413.2" stroke="#FF0000" stroke-width="2" stroke-dasharray="4.4 3.8"/>
<text x="622.6" y="399.9" font-size="8.4" fill="#333333" stroke="#333333" stroke-width="0.3" text-anchor="start" >Loess</text>
<text x="622.2" y="417.2" font-size="8.4" fill="#333333" stroke="#333333" stroke-width="0.3" text-anchor="start" >Ideal</text>
<rect x="362.6" y="518.9" width="225" height="31.7" fill="#EBEBEB" />
<line x1="398.89" y1="518.9" x2="398.89" y2="550.6" stroke="#FFFFFF" stroke-width="0.53" />
<line x1="450.67" y1="518.9" x2="450.67" y2="550.6" stroke="#FFFFFF" stroke-width="0.53" />
<line x1="502.45" y1="518.9" x2="502.45" y2="550.6" stroke="#FFFFFF" stroke-width="0.53" />
<line x1="554.23" y1="518.9" x2="554.23" y2="550.6" stroke="#FFFFFF" stroke-width="0.53" />
<line x1="362.6" y1="546.48" x2="587.6" y2="546.48" stroke="#FFFFFF" stroke-width="0.53" />
<line x1="362.6" y1="540.23" x2="587.6" y2="540.23" stroke="#FFFFFF" stroke-width="0.53" />
<line x1="362.6" y1="533.98" x2="587.6" y2="533.98" stroke="#FFFFFF" stroke-width="0.53" />
<line x1="362.6" y1="527.73" x2="587.6" y2="527.73" stroke="#FFFFFF" stroke-width="0.53" />
<line x1="362.6" y1="521.5" x2="587.6" y2="521.5" stroke="#FFFFFF" stroke-width="0.53" />
<line x1="373" y1="518.9" x2="373" y2="550.6" stroke="#FFFFFF" stroke-width="1.07" />
<line x1="424.78" y1="518.9" x2="424.78" y2="550.6" stroke="#FFFFFF" stroke-width="1.07" />
<line x1="476.56" y1="518.9" x2="476.56" y2="550.6" stroke="#FFFFFF" stroke-width="1.07" />
<line x1="528.34" y1="518.9" x2="528.34" y2="550.6" stroke="#FFFFFF" stroke-width="1.07" />
<line x1="580.12" y1="518.9" x2="580.12" y2="550.6" stroke="#FFFFFF" stroke-width="1.07" />
<line x1="362.6" y1="549.6" x2="587.6" y2="549.6" stroke="#FFFFFF" stroke-width="1.07" />
<line x1="362.6" y1="543.35" x2="587.6" y2="543.35" stroke="#FFFFFF" stroke-width="1.07" />
<line x1="362.6" y1="537.1" x2="587.6" y2="537.1" stroke="#FFFFFF" stroke-width="1.07" />
<line x1="362.6" y1="530.85" x2="587.6" y2="530.85" stroke="#FFFFFF" stroke-width="1.07" />
<line x1="362.6" y1="524.6" x2="587.6" y2="524.6" stroke="#FFFFFF" stroke-width="1.07" />
<rect x="362.6" y="555.9" width="225" height="31.7" fill="#EBEBEB" />
<line x1="398.89" y1="555.9" x2="398.89" y2="587.6" stroke="#FFFFFF" stroke-width="0.53" />
<line x1="450.67" y1="555.9" x2="450.67" y2="587.6" stroke="#FFFFFF" stroke-width="0.53" />
<line x1="502.45" y1="555.9" x2="502.45" y2="587.6" stroke="#FFFFFF" stroke-width="0.53" />
<line x1="554.23" y1="555.9" x2="554.23" y2="587.6" stroke="#FFFFFF" stroke-width="0.53" />
<line x1="362.6" y1="583.36" x2="587.6" y2="583.36" stroke="#FFFFFF" stroke-width="0.53" />
<line x1="362.6" y1="577.08" x2="587.6" y2="577.08" stroke="#FFFFFF" stroke-width="0.53" />
<line x1="362.6" y1="570.8" x2="587.6" y2="570.8" stroke="#FFFFFF" stroke-width="0.53" />
<line x1="362.6" y1="564.52" x2="587.6" y2="564.52" stroke="#FFFFFF" stroke-width="0.53" />
<line x1="362.6" y1="558.28" x2="587.6" y2="558.28" stroke="#FFFFFF" stroke-width="0.53" />
<line x1="373" y1="555.9" x2="373" y2="587.6" stroke="#FFFFFF" stroke-width="1.07" />
<line x1="424.78" y1="555.9" x2="424.78" y2="587.6" stroke="#FFFFFF" stroke-width="1.07" />
<line x1="476.56" y1="555.9" x2="476.56" y2="587.6" stroke="#FFFFFF" stroke-width="1.07" />
<line x1="528.34" y1="555.9" x2="528.34" y2="587.6" stroke="#FFFFFF" stroke-width="1.07" />
<line x1="580.12" y1="555.9" x2="580.12" y2="587.6" stroke="#FFFFFF" stroke-width="1.07" />
<line x1="362.6" y1="586.5" x2="587.6" y2="586.5" stroke="#FFFFFF" stroke-width="1.07" />
<line x1="362.6" y1="580.22" x2="587.6" y2="580.22" stroke="#FFFFFF" stroke-width="1.07" />
<line x1="362.6" y1="573.94" x2="587.6" y2="573.94" stroke="#FFFFFF" stroke-width="1.07" />
<line x1="362.6" y1="567.66" x2="587.6" y2="567.66" stroke="#FFFFFF" stroke-width="1.07" />
<line x1="362.6" y1="561.38" x2="587.6" y2="561.38" stroke="#FFFFFF" stroke-width="1.07" />
<defs><clipPath id="ch1"><rect x="362.6" y="518.9" width="225" height="31.7"/></clipPath><clipPath id="ch2"><rect x="362.6" y="555.9" width="225" height="31.7"/></clipPath></defs>
<g clip-path="url(#ch1)">
<rect x="373" y="521.1" width="10.95" height="28.5" fill="#F8766D" fill-opacity="0.5"/>
<rect x="383.95" y="547.4" width="10.95" height="2.2" fill="#F8766D" fill-opacity="0.5"/>
<rect x="394.9" y="548.6" width="10.95" height="1" fill="#F8766D" fill-opacity="0.5"/>
<rect x="405.85" y="549.1" width="10.95" height="0.5" fill="#F8766D" fill-opacity="0.5"/>
<rect x="416.8" y="549.3" width="10.95" height="0.3" fill="#F8766D" fill-opacity="0.5"/>
<rect x="427.75" y="549.4" width="10.95" height="0.2" fill="#F8766D" fill-opacity="0.5"/>
<rect x="438.7" y="549.4" width="10.95" height="0.2" fill="#F8766D" fill-opacity="0.5"/>
<rect x="449.65" y="549.4" width="10.95" height="0.2" fill="#F8766D" fill-opacity="0.5"/>
<rect x="460.6" y="549.5" width="10.95" height="0.1" fill="#F8766D" fill-opacity="0.5"/>
<rect x="471.55" y="549.5" width="10.95" height="0.1" fill="#F8766D" fill-opacity="0.5"/>
<rect x="482.5" y="549.5" width="10.95" height="0.1" fill="#F8766D" fill-opacity="0.5"/>
<rect x="493.45" y="549.5" width="10.95" height="0.1" fill="#F8766D" fill-opacity="0.5"/>
</g><g clip-path="url(#ch2)">
<rect x="373" y="557.8" width="10.95" height="28.7" fill="#00BFC4" fill-opacity="0.5"/>
<rect x="383.95" y="562.6" width="10.95" height="23.9" fill="#00BFC4" fill-opacity="0.5"/>
<rect x="394.9" y="569.1" width="10.95" height="17.4" fill="#00BFC4" fill-opacity="0.5"/>
<rect x="405.85" y="574.7" width="10.95" height="11.8" fill="#00BFC4" fill-opacity="0.5"/>
<rect x="416.8" y="575.6" width="10.95" height="10.9" fill="#00BFC4" fill-opacity="0.5"/>
<rect x="427.75" y="576.4" width="10.95" height="10.1" fill="#00BFC4" fill-opacity="0.5"/>
<rect x="438.7" y="578.8" width="10.95" height="7.7" fill="#00BFC4" fill-opacity="0.5"/>
<rect x="449.65" y="578.8" width="10.95" height="7.7" fill="#00BFC4" fill-opacity="0.5"/>
<rect x="460.6" y="580.9" width="10.95" height="5.6" fill="#00BFC4" fill-opacity="0.5"/>
<rect x="471.55" y="581.4" width="10.95" height="5.1" fill="#00BFC4" fill-opacity="0.5"/>
<rect x="482.5" y="581" width="10.95" height="5.5" fill="#00BFC4" fill-opacity="0.5"/>
<rect x="493.45" y="581.2" width="10.95" height="5.3" fill="#00BFC4" fill-opacity="0.5"/>
<rect x="504.4" y="582.5" width="10.95" height="4" fill="#00BFC4" fill-opacity="0.5"/>
<rect x="515.35" y="582.7" width="10.95" height="3.8" fill="#00BFC4" fill-opacity="0.5"/>
<rect x="526.3" y="583.7" width="10.95" height="2.8" fill="#00BFC4" fill-opacity="0.5"/>
<rect x="537.25" y="584" width="10.95" height="2.5" fill="#00BFC4" fill-opacity="0.5"/>
<rect x="548.2" y="584.6" width="10.95" height="1.9" fill="#00BFC4" fill-opacity="0.5"/>
<rect x="559.15" y="585.2" width="10.95" height="1.3" fill="#00BFC4" fill-opacity="0.5"/>
<rect x="570.1" y="585.7" width="10.95" height="0.8" fill="#00BFC4" fill-opacity="0.5"/>
<rect x="581.05" y="586.2" width="10.95" height="0.3" fill="#00BFC4" fill-opacity="0.5"/>
</g>
<line x1="360" y1="549.6" x2="362.6" y2="549.6" stroke="#333333" stroke-width="1.07" />
<text x="0" y="0" font-size="8.2" fill="#4D4D4D" stroke="#4D4D4D" stroke-width="0.12" text-anchor="end" transform="translate(358.2 552.7) scale(1 1.22)">0</text>
<line x1="360" y1="543.35" x2="362.6" y2="543.35" stroke="#333333" stroke-width="1.07" />
<text x="0" y="0" font-size="8.2" fill="#4D4D4D" stroke="#4D4D4D" stroke-width="0.12" text-anchor="end" transform="translate(358.2 546.45) scale(1 1.22)">10000</text>
<line x1="360" y1="537.1" x2="362.6" y2="537.1" stroke="#333333" stroke-width="1.07" />
<text x="0" y="0" font-size="8.2" fill="#4D4D4D" stroke="#4D4D4D" stroke-width="0.12" text-anchor="end" transform="translate(358.2 540.2) scale(1 1.22)">20000</text>
<line x1="360" y1="530.85" x2="362.6" y2="530.85" stroke="#333333" stroke-width="1.07" />
<text x="0" y="0" font-size="8.2" fill="#4D4D4D" stroke="#4D4D4D" stroke-width="0.12" text-anchor="end" transform="translate(358.2 533.95) scale(1 1.22)">30000</text>
<line x1="360" y1="524.6" x2="362.6" y2="524.6" stroke="#333333" stroke-width="1.07" />
<text x="0" y="0" font-size="8.2" fill="#4D4D4D" stroke="#4D4D4D" stroke-width="0.12" text-anchor="end" transform="translate(358.2 527.7) scale(1 1.22)">40000</text>
<line x1="360" y1="586.5" x2="362.6" y2="586.5" stroke="#333333" stroke-width="1.07" />
<text x="0" y="0" font-size="8.2" fill="#4D4D4D" stroke="#4D4D4D" stroke-width="0.12" text-anchor="end" transform="translate(358.2 589.6) scale(1 1.22)">0</text>
<line x1="360" y1="580.22" x2="362.6" y2="580.22" stroke="#333333" stroke-width="1.07" />
<text x="0" y="0" font-size="8.2" fill="#4D4D4D" stroke="#4D4D4D" stroke-width="0.12" text-anchor="end" transform="translate(358.2 583.32) scale(1 1.22)">100</text>
<line x1="360" y1="573.94" x2="362.6" y2="573.94" stroke="#333333" stroke-width="1.07" />
<text x="0" y="0" font-size="8.2" fill="#4D4D4D" stroke="#4D4D4D" stroke-width="0.12" text-anchor="end" transform="translate(358.2 577.04) scale(1 1.22)">200</text>
<line x1="360" y1="567.66" x2="362.6" y2="567.66" stroke="#333333" stroke-width="1.07" />
<text x="0" y="0" font-size="8.2" fill="#4D4D4D" stroke="#4D4D4D" stroke-width="0.12" text-anchor="end" transform="translate(358.2 570.76) scale(1 1.22)">300</text>
<line x1="360" y1="561.38" x2="362.6" y2="561.38" stroke="#333333" stroke-width="1.07" />
<text x="0" y="0" font-size="8.2" fill="#4D4D4D" stroke="#4D4D4D" stroke-width="0.12" text-anchor="end" transform="translate(358.2 564.48) scale(1 1.22)">400</text>
<line x1="373" y1="587.6" x2="373" y2="590.3" stroke="#333333" stroke-width="1.07" />
<text x="0" y="0" font-size="8" fill="#4D4D4D" stroke="#4D4D4D" stroke-width="0.12" text-anchor="middle" transform="translate(373 599.2) scale(1 1.1)">0.00</text>
<line x1="424.78" y1="587.6" x2="424.78" y2="590.3" stroke="#333333" stroke-width="1.07" />
<text x="0" y="0" font-size="8" fill="#4D4D4D" stroke="#4D4D4D" stroke-width="0.12" text-anchor="middle" transform="translate(424.78 599.2) scale(1 1.1)">0.25</text>
<line x1="476.56" y1="587.6" x2="476.56" y2="590.3" stroke="#333333" stroke-width="1.07" />
<text x="0" y="0" font-size="8" fill="#4D4D4D" stroke="#4D4D4D" stroke-width="0.12" text-anchor="middle" transform="translate(476.56 599.2) scale(1 1.1)">0.50</text>
<line x1="528.34" y1="587.6" x2="528.34" y2="590.3" stroke="#333333" stroke-width="1.07" />
<text x="0" y="0" font-size="8" fill="#4D4D4D" stroke="#4D4D4D" stroke-width="0.12" text-anchor="middle" transform="translate(528.34 599.2) scale(1 1.1)">0.75</text>
<line x1="580.12" y1="587.6" x2="580.12" y2="590.3" stroke="#333333" stroke-width="1.07" />
<text x="0" y="0" font-size="8" fill="#4D4D4D" stroke="#4D4D4D" stroke-width="0.12" text-anchor="middle" transform="translate(580.12 599.2) scale(1 1.1)">1.00</text>
<text x="475.1" y="610.9" font-size="10.3" fill="#1A1A1A" stroke="#1A1A1A" stroke-width="0.3" text-anchor="middle" >Predicted Probability</text>
<text x="330.2" y="553.2" font-size="10" fill="#1A1A1A" stroke="#1A1A1A" stroke-width="0.3" text-anchor="middle" transform="rotate(-90 330.2 553.2)">count</text>
<text x="604.2" y="538.6" font-size="10.3" fill="#1A1A1A" stroke="#1A1A1A" stroke-width="0.3" text-anchor="start" >Outcome</text>
<rect x="604.2" y="545" width="15" height="16.4" fill="#F4B0AC" />
<rect x="604.2" y="561.8" width="15" height="15.5" fill="#72D4D7" />
<text x="624.6" y="556.5" font-size="8.2" fill="#333333" stroke="#333333" stroke-width="0.3" text-anchor="start" >0</text>
<text x="624.6" y="573.2" font-size="8.2" fill="#333333" stroke="#333333" stroke-width="0.3" text-anchor="start" >1</text>
<text x="307.6" y="617" font-size="16.5" fill="#111" stroke="#111" stroke-width="0.4" style="font-family:'Liberation Serif',serif">D</text>
</svg></body></html>
